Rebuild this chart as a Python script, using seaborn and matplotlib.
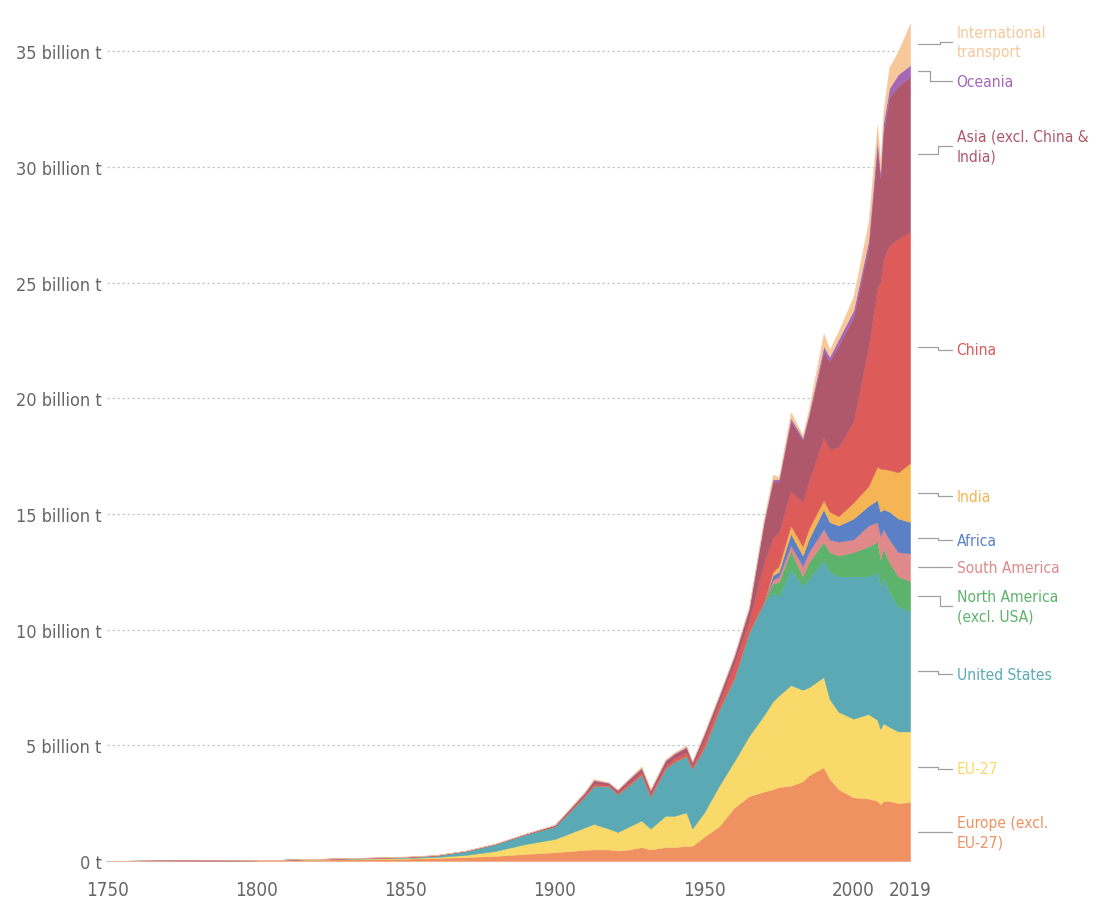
import numpy as np
import pandas as pd
import seaborn as sns
import matplotlib.pyplot as plt

# years
years = [1750, 1800, 1850, 1860, 1870, 1880, 1890,
         1900, 1910, 1913, 1918, 1921, 1925, 1929, 1932, 1937, 1940,
         1944, 1946, 1950, 1955, 1960, 1965, 1970,
         1973, 1975, 1979, 1983, 1985, 1990, 1992, 1995,
         2000, 2005, 2008, 2009, 2010, 2012, 2015, 2019]

# annual CO2 emissions, billion tonnes
europe_excl = [.01, .03, .10, .13, .17, .22, .30,
               .38, .48, .50, .50, .45, .50, .60, .50, .60, .60,
               .65, .65, 1.05, 1.5, 2.3, 2.8, 3.0,
               3.1, 3.2, 3.25, 3.45, 3.7, 4.05, 3.55, 3.1,
               2.75, 2.7, 2.6, 2.45, 2.6, 2.6, 2.5, 2.55]
eu27 = [0, 0, .03, .04, .09, .21, .43,
        .57, .97, 1.1, .9, .8, 1.0, 1.15, .9, 1.35, 1.35,
        1.45, .75, 1.05, 1.75, 2.0, 2.6, 3.3,
        3.8, 3.95, 4.35, 3.95, 3.8, 3.9, 3.45, 3.35,
        3.4, 3.65, 3.5, 3.25, 3.35, 3.2, 3.1, 3.05]
usa = [0, 0, .04, .07, .17, .30, .42,
       .55, 1.35, 1.65, 1.85, 1.65, 1.8, 2.0, 1.4, 2.05, 2.35,
       2.45, 2.6, 2.8, 3.3, 3.6, 4.5, 4.9,
       4.7, 4.3, 5.0, 4.5, 4.7, 5.05, 5.5, 5.85,
       6.15, 5.95, 6.4, 6.2, 6.35, 5.8, 5.4, 5.2]
north_am = [0] * 24 + [.4, .6, .8, .4, .7, .8, .85, .9,
                       1.05, 1.3, 1.3, 1.15, 1.2, 1.3, 1.3, 1.3]
south_am = [0] * 24 + [.15, .25, .25, .45, .45, .55, .55, .6,
                       .55, .9, .85, 1.0, .85, 1.0, 1.05, 1.2]
africa = [0] * 24 + [.2, .2, .5, .45, .55, .85, .75, .7,
                     .9, .85, .95, 1.05, .85, 1.2, 1.45, 1.35]
india = [0] * 24 + [.15, .25, .35, .4, .45, .4, .45, .4,
                    .7, .85, 1.45, 1.85, 1.75, 1.8, 2.0, 2.55]
china = [0, 0, 0, 0, 0, 0, .01,
         .02, .06, .07, .05, .05, .1, .1, .1, .12, .15,
         .15, .1, .3, .3, .6, .5, 1.7,
         1.5, 1.45, 1.5, 1.9, 2.05, 2.7, 2.7, 3.0,
         3.5, 6.0, 7.75, 8.05, 9.05, 9.7, 10.1, 10.0]
asia_excl = [0, 0, .01, .01, .01, .01, .01,
             .03, .09, .16, .07, .1, .15, .15, .15, .2, .17,
             .2, .15, .25, .25, .3, .45, 1.7,
             2.4, 2.2, 3.0, 2.7, 2.8, 3.7, 3.8, 4.4,
             4.5, 4.3, 6.0, 4.5, 5.5, 6.4, 6.6, 6.7]
oceania = [0, 0, 0, 0, 0, 0, 0,
           .01, .02, .02, .02, .02, .02, .03, .02, .03, .03,
           .04, .04, .04, .05, .05, .07, .08,
           .1, .1, .15, .1, .1, .25, .2, .25,
           .3, .3, .4, .3, .4, .4, .5, .5]
transport = [0, 0, .02, .01, .01, .02, .01,
             .01, .03, .05, .01, .03, .03, .07, .03, .05, .05,
             .06, .01, .06, .05, .05, .08, .12,
             .2, .1, .25, .1, .2, .55, .3, .35,
             .6, .8, .6, .4, .5, .9, 1.0, 1.8]

regions = ["Europe (excl.\nEU-27)", "EU-27", "United States",
           "North America\n(excl. USA)", "South America", "Africa", "India",
           "China", "Asia (excl. China &\nIndia)", "Oceania",
           "International\ntransport"]
series = [europe_excl, eu27, usa, north_am, south_am, africa, india,
          china, asia_excl, oceania, transport]
colors = ["#EF9161", "#F8D96A", "#5AA9B4", "#5DB36B", "#E0898A", "#5B80C6",
          "#F5B554", "#DD5B58", "#B0586B", "#A468B6", "#F6C89A"]
# where each label sits on the right (billion t)
label_y = [1.25, 3.98, 8.08, 11.02, 12.7, 13.87, 15.77, 22.1, 30.9, 33.7, 35.4]
elbow_x = [1.035, 1.035, 1.035, 1.037, 1.035, 1.035, 1.035, 1.035, 1.035, 1.025, 1.037]

df = pd.DataFrame(dict(zip(regions, series)), index=years)

sns.set_style("white")
plt.rcParams['font.family'] = ['DejaVu Sans']
plt.rcParams['font.stretch'] = 'condensed'

fig = plt.figure(figsize=(10.93, 9.03), dpi=100)
ax = fig.add_axes([0.098, 0.0454, 0.7347, 0.948])

ax.stackplot(df.index, df.T.values, colors=colors, linewidth=0.3,
             edgecolor="face")

ax.set_xlim(1750, 2019)
ax.set_ylim(0, 37)
sns.despine(ax=ax, left=True, bottom=True)

yt = np.arange(0, 36, 5)
ax.set_yticks(yt)
ax.set_yticklabels(["0 t"] + ["%d billion t" % v for v in yt[1:]])
ax.tick_params(axis="y", length=0, labelsize=13, labelcolor="#666666", pad=4)
for v in yt[1:]:
    ax.axhline(v, color="#c8c8c8", lw=0.9, ls=(0, (2, 2)), zorder=0)

ax.set_xticks([1750, 1800, 1850, 1900, 1950, 2000, 2019])
ax.tick_params(axis="x", length=6, width=0.8, color="#d0d0d0",
               labelsize=13.5, labelcolor="#666666", pad=8)

# right-hand labels with leader lines
tops = df.cumsum(axis=1).iloc[-1].values
bottoms = tops - df.iloc[-1].values
for name, col, top, bot, ly, ex in zip(regions, colors, tops, bottoms, label_y, elbow_x):
    mid = (top + bot) / 2
    ax.plot([1.01, ex, ex, 1.052], [mid, mid, ly, ly], color="#a0a0a0", lw=0.9,
            transform=ax.get_yaxis_transform(), clip_on=False)
    ax.text(1.058, ly, name, color=col, fontsize=11.2, va="center", ha="left",
            linespacing=1.35, transform=ax.get_yaxis_transform())

fig.savefig("out.png", dpi=100)
